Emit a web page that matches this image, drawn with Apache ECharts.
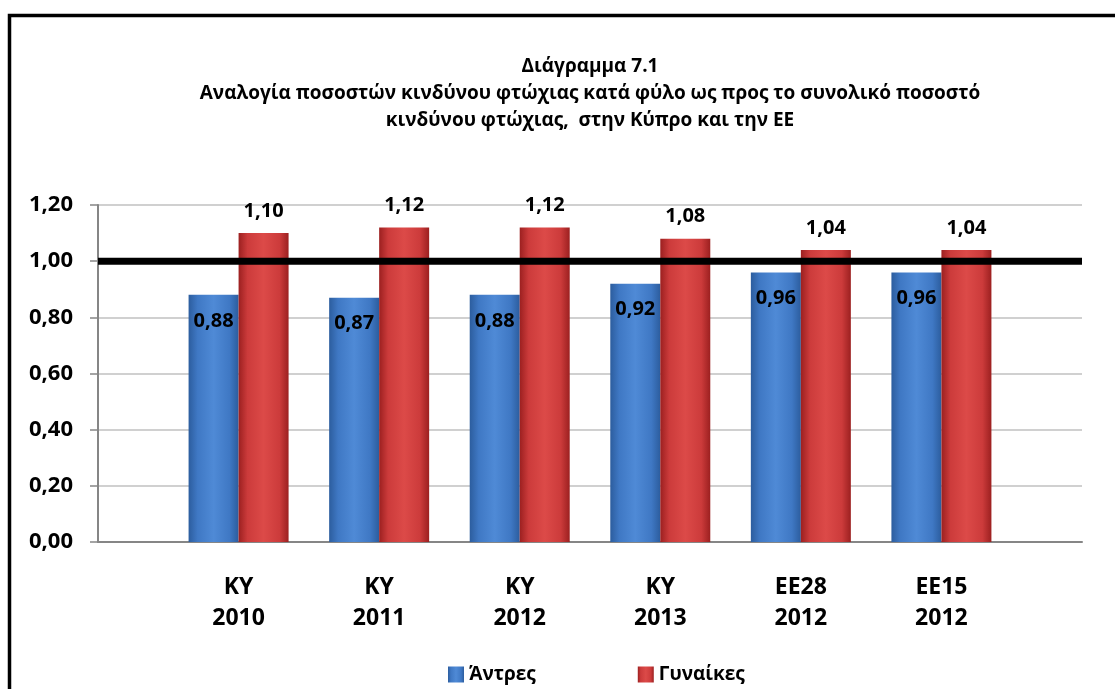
<!DOCTYPE html>
<html>
<head>
<meta charset="utf-8">
<script src="https://cdn.jsdelivr.net/npm/echarts@6/dist/echarts.min.js"></script>
<style>
  html, body { margin: 0; padding: 0; background: #fff; }
  #chart { width: 1115px; height: 689px; }
</style>
</head>
<body>
<div id="chart"></div>
<script>
// data
const categories = ['KY\n2010', 'KY\n2011', 'KY\n2012', 'KY\n2013', 'EE28\n2012', 'EE15\n2012'];
const menValues = [0.88, 0.87, 0.88, 0.92, 0.96, 0.96];
const womenValues = [1.10, 1.12, 1.12, 1.08, 1.04, 1.04];
const yTicks = [0, 0.2, 0.4, 0.6, 0.8, 1.0, 1.2];
const refLine = 1.0;
const seriesNames = ['Άντρες', 'Γυναίκες'];
const titleText = 'Διάγραμμα 7.1\nΑναλογία ποσοστών κινδύνου φτώχιας κατά φύλο ως προς το συνολικό ποσοστό\nκινδύνου φτώχιας,  στην Κύπρο και την ΕΕ';

const FONT = '"Open Sans", "Noto Sans", sans-serif';

function comma(v) {
    return v.toFixed(2).replace('.', ',');
}

// horizontal gradient: darker edges, lighter middle (fake 3D look)
function barGrad(dark, mid, light) {
    return new echarts.graphic.LinearGradient(0, 0, 1, 0, [
        { offset: 0, color: dark },
        { offset: 0.18, color: mid },
        { offset: 0.5, color: light },
        { offset: 0.82, color: mid },
        { offset: 1, color: dark }
    ]);
}

const chart = echarts.init(document.getElementById('chart'));

const option = {
    backgroundColor: '#fff',
    animation: false,
    textStyle: { fontFamily: FONT },
    graphic: [{
        type: 'rect',
        shape: { x: 9.5, y: 15.5, width: 1300, height: 900 },
        style: { fill: 'none', stroke: '#000', lineWidth: 3.5 },
        z: 10
    }],
    title: {
        text: titleText,
        left: 585,
        top: 48,
        textAlign: 'center',
        textStyle: {
            fontFamily: FONT,
            fontSize: 19,
            fontWeight: 'bold',
            color: '#000',
            lineHeight: 27
        }
    },
    legend: {
        data: seriesNames,
        left: 443,
        top: 660,
        itemWidth: 16,
        itemHeight: 16,
        itemGap: 102,
        icon: 'rect',
        textStyle: { fontFamily: FONT, fontSize: 19, fontWeight: 'bold', color: '#000' }
    },
    grid: [
        // background grid: y axis, gridlines, reference line
        { left: 98, right: 33, top: 205, bottom: 147 },
        // bars: half a band of padding on each side
        { left: 168.3, right: 103.3, top: 205, bottom: 147 }
    ],
    xAxis: [{
        gridIndex: 0,
        type: 'value',
        min: 0,
        max: 1,
        axisLine: { show: true, onZero: false, lineStyle: { color: '#868686', width: 2 } },
        axisTick: { show: false },
        axisLabel: { show: false },
        splitLine: { show: false }
    }, {
        gridIndex: 1,
        type: 'category',
        data: categories,
        axisLine: { show: false },
        axisTick: { show: false },
        axisLabel: {
            margin: 30,
            fontFamily: FONT,
            fontSize: 23,
            fontWeight: 'bold',
            color: '#000',
            lineHeight: 31
        }
    }],
    yAxis: [{
        gridIndex: 0,
        type: 'value',
        min: yTicks[0],
        max: yTicks[yTicks.length - 1],
        interval: 0.2,
        axisLine: { show: true, lineStyle: { color: '#868686', width: 2 } },
        axisTick: { show: true, length: 8, lineStyle: { color: '#868686', width: 1.5 } },
        axisLabel: {
            margin: 25,
            fontFamily: FONT,
            fontSize: 22,
            fontWeight: 'bold',
            color: '#000',
            formatter: v => comma(v)
        },
        splitLine: { show: true, lineStyle: { color: '#c0c0c0', width: 1.5 } }
    }, {
        gridIndex: 1,
        type: 'value',
        min: yTicks[0],
        max: yTicks[yTicks.length - 1],
        interval: 0.2,
        show: false,
        splitLine: { show: false }
    }],
    series: [{
        name: seriesNames[0],
        type: 'bar',
        xAxisIndex: 1,
        yAxisIndex: 1,
        data: menValues,
        barWidth: 50,
        barGap: '0%',
        z: 2,
        itemStyle: { color: barGrad('#2c5d9e', '#3f78c4', '#4f8ad6') },
        label: {
            show: true,
            position: 'insideTop',
            distance: 16,
            fontFamily: FONT,
            fontSize: 20,
            fontWeight: 'bold',
            color: '#000',
            formatter: p => comma(p.value)
        }
    }, {
        name: seriesNames[1],
        type: 'bar',
        xAxisIndex: 1,
        yAxisIndex: 1,
        data: womenValues,
        barWidth: 50,
        z: 2,
        itemStyle: { color: barGrad('#9c2020', '#cc3b3b', '#dc4a48') },
        label: {
            show: true,
            position: 'top',
            distance: 12,
            fontFamily: FONT,
            fontSize: 20,
            fontWeight: 'bold',
            color: '#000',
            formatter: p => comma(p.value)
        }
    }, {
        // thick reference line at 1,00
        type: 'line',
        xAxisIndex: 0,
        yAxisIndex: 0,
        data: [[0, refLine], [1, refLine]],
        symbol: 'none',
        silent: true,
        z: 5,
        lineStyle: { color: '#000', width: 7 }
    }]
};

chart.setOption(option);
</script>
</body>
</html>
